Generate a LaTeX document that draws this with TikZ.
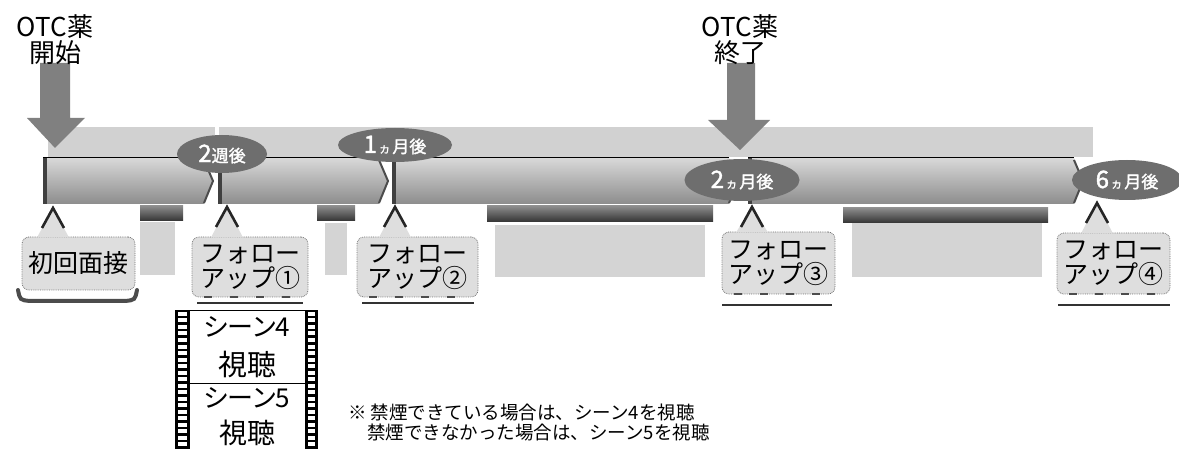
\documentclass[tikz,border=0pt]{standalone}
\usepackage{fontspec}
\setmainfont{Noto Sans CJK JP}
\newfontfamily\jpb[FakeBold=1.8]{Noto Sans CJK JP}
\newfontfamily\jpp[RawFeature=+palt]{Noto Sans CJK JP}
\usetikzlibrary{shapes.geometric}
\newcommand\ebig[1]{{\jpb\fontsize{24}{24}\selectfont #1}}
\newcommand\emid[1]{{\jpb\fontsize{17}{17}\selectfont #1}}
\newcommand\etiny[1]{{\jpb\fontsize{12}{12}\selectfont #1}}
\tikzset{
  bandfill/.style={fill=black!18},
  arrowfill/.style={fill=black!50},
  ell/.style={ellipse, fill=black!57, text=white, inner sep=0pt},
  callbox/.style={draw=black!55, densely dotted, line width=0.8pt, fill=black!13, rounded corners=7pt, inner sep=0pt, align=center, font=\fontsize{25}{25}\selectfont},
  tailfill/.style={fill=black!13},
  tailline/.style={draw=black!85, line width=2.6pt},
  shadowline/.style={draw=black!80, line width=1.3pt},
  lbl/.style={align=center, font=\fontsize{26}{26}\selectfont, inner sep=0pt},
  strip/.style={top color=black!45, bottom color=black!80},
  refl/.style={fill=black!17},
  filmtxt/.style={inner sep=0pt},
  note/.style={anchor=west, inner sep=0pt, font=\fontsize{18.5}{18.5}\selectfont}
}
\begin{document}
\begin{tikzpicture}[x=1pt,y=-1pt]
\useasboundingbox (0,0) rectangle (1179,449);
% background band
\fill[bandfill] (48,127) rectangle (215,157);
\fill[bandfill] (219,127) rectangle (1093,157);
% strips under the bar
\shade[strip] (140,206) rectangle (183,221);
\shade[strip] (317,206) rectangle (355,221);
\shade[strip] (487,206) rectangle (713,222);
\shade[strip] (843,208) rectangle (1048,223);
% reflections
\fill[refl] (140,222) rectangle (175,275);
\fill[refl] (325,223) rectangle (347,275);
\fill[refl] (495,225) rectangle (705,277);
\fill[refl] (852,223) rectangle (1042,277);
% bar segments
\foreach \a/\b in {43/213, 218/388, 392/738, 748/1083}{
  \shade[top color=black!15, bottom color=black!45] (\a,158) -- (\b-9,158) -- (\b,181) -- (\b-9,204) -- (\a,204) -- cycle;
  \fill[black!75] (\a,158) rectangle (\a+4,204);
  \draw[black, line width=1pt] (\a,158) -- (\b-9,158);
  \draw[black!70, line width=2pt] (\b-9,160) -- (\b,181) -- (\b-9,203);
}
% arrows
\fill[arrowfill] (40,63) -- (70,63) -- (70,118) -- (85,118) -- (55,148) -- (27,118) -- (40,118) -- cycle;
\fill[arrowfill] (727,63) -- (755,63) -- (755,120) -- (770,120) -- (740,150) -- (708,120) -- (727,120) -- cycle;
\node[lbl] (start) at (55,40) {OTC薬\\開始};
\node[lbl] (end) at (740,40) {OTC薬\\終了};
% ellipses
\node[ell, minimum width=90pt, minimum height=38pt] (m1) at (222,154) {\ebig{2}\emid{週後}};
\node[ell, minimum width=114pt, minimum height=34pt] (m2) at (395,145) {\ebig{1}\,\etiny{ヵ}\,\emid{月後}};
\node[ell, minimum width=115pt, minimum height=42pt] (m3) at (742,180) {\ebig{2}\,\etiny{ヵ}\,\emid{月後}};
\node[ell, minimum width=110pt, minimum height=40pt] (m4) at (1127,180) {\ebig{6}\,\etiny{ヵ}\,\emid{月後}};
% callouts
\draw[line width=4pt, black!70, line cap=round] (18,290) .. controls (20,300) .. (30,301) -- (125,301) .. controls (135,300) .. (137,290);
\node[callbox, minimum width=113pt, minimum height=53pt] (c0) at (78.5,263.5) {初回面接};
\node[callbox, minimum width=116pt, minimum height=60pt] (c1) at (250,267) {フォロー\\アップ①};
\node[callbox, minimum width=121pt, minimum height=60pt] (c2) at (417.5,267) {フォロー\\アップ②};
\node[callbox, minimum width=113pt, minimum height=62pt] (c3) at (778.5,263) {フォロー\\アップ③};
\node[callbox, minimum width=113pt, minimum height=61pt] (c4) at (1113.5,263.5) {フォロー\\アップ④};
% tails
\foreach \ax/\ay/\by in {53/208/237.5, 227/207/237.5, 395/207/237.5, 752/207/232.5, 1097/203/233.5}{
  \fill[tailfill] (\ax-16,\by) -- (\ax,\ay) -- (\ax+16,\by) -- cycle;
  \draw[tailline] (\ax-11,\ay+20) -- (\ax,\ay) -- (\ax+11,\ay+20);
}
% shadow lines under follow-up boxes
\draw[shadowline] (197,303) -- (303,303);
\draw[shadowline] (362,303) -- (474,303);
\draw[shadowline] (722,305) -- (832,305);
\draw[shadowline] (1058,305) -- (1170,305);
\foreach \l/\r/\y in {192/308/297, 357/478/297, 722/835/294, 1057/1170/294}{
  \draw[black!70, line width=2pt, dash pattern=on 8pt off 18pt] (\l+12,\y) -- (\r-8,\y);
}
% film strip
\fill[black] (175,310) rectangle (190,452);
\fill[black] (305,310) rectangle (318,452);
\draw[black, line width=1pt] (190,310.5) -- (305,310.5);
\draw[black, line width=1pt] (190,383) -- (305,383);
\foreach \k in {0,...,21}{
  \fill[white] (178,312+\k*6.5) rectangle (187,316+\k*6.5);
  \fill[white] (308,312+\k*6.5) rectangle (315,316+\k*6.5);
}
\node[filmtxt, font=\jpp\fontsize{26}{26}\selectfont] (s4) at (247,327) {シーン4};
\node[filmtxt, font=\fontsize{29}{29}\selectfont] (v4) at (247,364) {視聴};
\node[filmtxt, font=\fontsize{26}{26}\selectfont] (s5) at (247,398) {\jpp シーン5};
\node[filmtxt, font=\fontsize{28}{28}\selectfont] (v5) at (247,433) {視聴};
% note
\node[note] (n1) at (348,412) {※ 禁煙できている場合は、シーン4を視聴};
\node[note] (n2) at (367,432) {禁煙できなかった場合は、シーン5を視聴};
\end{tikzpicture}
\end{document}
